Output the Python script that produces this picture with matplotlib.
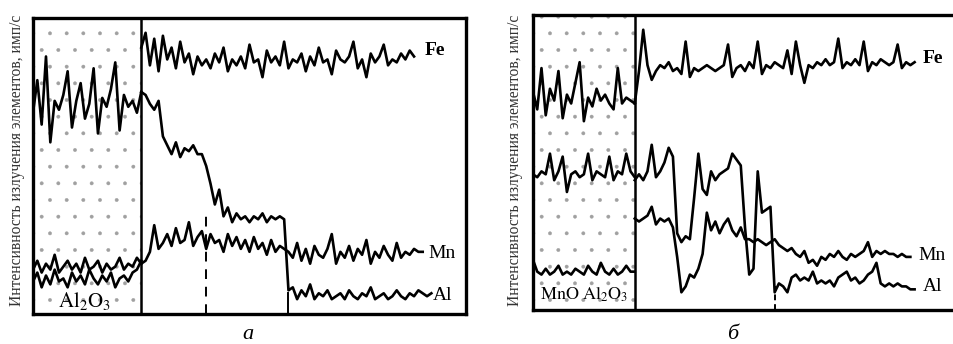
import numpy as np
import matplotlib
matplotlib.use('Agg')
import matplotlib.pyplot as plt

plt.rcParams['font.family'] = ['Liberation Serif', 'DejaVu Serif']
plt.rcParams['mathtext.fontset'] = 'stix'
plt.rcParams['hatch.linewidth'] = 0.3

# ---- panel a: Al2O3 | steel, x in steps of 1 (arb. units 0..100)
a_border = 25          # oxide / metal boundary
a_dashes = [40, 59]    # dashed markers

fe_a_oxide = [11, 14, 9, 13, 10, 15, 11, 12, 9, 14, 11, 13, 10, 15, 12, 10, 13, 11,
              14, 9, 12, 13, 11, 14, 15, 18]
fe_a_metal = [90, 95, 84, 93, 82, 94, 86, 90, 83, 92, 85, 88, 81, 87, 84, 86, 83, 88,
              85, 90, 82, 86, 84, 87, 83, 91, 85, 86, 80, 89, 85, 87, 84, 92, 83, 86,
              85, 88, 82, 87, 84, 90, 85, 86, 81, 89, 86, 85, 87, 92, 83, 86, 80, 88,
              85, 87, 91, 84, 86, 85, 88, 86, 89, 87]
mn_a_oxide = [15, 18, 14, 17, 15, 20, 14, 16, 18, 15, 17, 14, 19, 15, 16, 18, 14, 17,
              15, 16, 19, 15, 17, 16, 19, 17]
mn_a_metal = [17, 18, 21, 30, 22, 24, 27, 23, 29, 24, 25, 31, 23, 26, 28, 22, 27, 24,
              25, 21, 27, 23, 26, 22, 25, 21, 26, 22, 24, 20, 25, 21, 23, 22,
              21, 19, 24, 18, 22, 17, 23, 20, 19, 22, 27, 17, 21, 19, 23, 18, 22, 20,
              25, 17, 21, 19, 23, 20, 18, 24, 19, 21, 20, 22, 21, 21]
al_a_oxide = [68, 79, 64, 87, 58, 72, 69, 74, 82, 63, 72, 78, 66, 71, 83, 61, 73, 70,
              76, 85, 62, 74, 70, 72, 68, 75]
al_a_metal = [75, 74, 71, 69, 72, 60, 57, 54, 58, 53, 56, 55, 57, 54, 54, 50, 44, 37,
              42, 33, 36, 31, 34, 32, 33, 31, 33, 32, 34, 31, 33, 32, 33, 32, 8,
              9, 5, 8, 6, 10, 5, 7, 6, 8, 5, 6, 7, 5, 8, 6, 5, 7, 6, 9, 5, 6, 7, 5,
              6, 8, 6, 5, 7, 6, 8, 7, 6, 7]

# ---- panel b: MnO*Al2O3 | steel
b_border = 24
b_dashes = [57]

fe_b_oxide = [74, 68, 82, 66, 75, 71, 81, 65, 73, 70, 77, 84, 64, 72, 69, 75, 71, 73,
              70, 68, 82, 70, 72, 71, 70]
fe_b_metal = [70, 81, 95, 83, 78, 81, 83, 82, 84, 81, 82, 80, 91, 79, 82, 81, 82, 83,
              82, 81, 82, 83, 90, 79, 82, 83, 81, 84, 82, 91, 80, 83, 82, 84, 83, 82,
              88, 80, 91, 83, 77, 83, 82, 84, 83, 85, 83, 84, 92, 82, 84, 83, 85, 83,
              91, 81, 84, 83, 85, 84, 83, 84, 90, 82, 84, 83, 84]
mn_b_oxide = [17, 13, 12, 14, 12, 13, 15, 12, 13, 12, 14, 13, 12, 15, 13, 12, 16, 13,
              12, 14, 12, 13, 15, 13, 13]
mn_b_metal = [31, 30, 31, 32, 35, 29, 31, 30, 31, 28, 18, 6, 8, 12, 11, 14, 19, 33,
              27, 30, 26, 29, 31, 27, 25, 28, 24, 24, 23, 24, 23, 22, 23, 24, 22, 21,
              20, 21, 19, 18, 20, 16, 17, 15, 18, 17, 19, 18, 20, 18, 17, 19, 18, 19,
              20, 23, 18, 20, 19, 20, 19, 19, 18, 19, 18, 18]
al_b_oxide = [46, 45, 47, 46, 53, 44, 47, 52, 40, 46, 47, 45, 46, 53, 44, 47, 46, 45,
              52, 44, 47, 46, 53, 47, 45]
al_b_metal = [44, 46, 44, 47, 56, 45, 47, 50, 55, 52, 26, 23, 25, 24, 38, 53, 41, 39,
              47, 44, 46, 47, 48, 53, 51, 49, 28, 12, 14, 47, 33, 34, 35,
              6, 9, 8, 6, 11, 12, 10, 11, 10, 13, 9, 10, 9, 10, 8, 11, 12, 13, 10, 11,
              9, 10, 12, 13, 16, 9, 8, 9, 8, 9, 8, 8, 7, 7]

ylabel = 'Интенсивность излучения элементов, имп/с'


def trace(ax, x0, ys):
    ax.plot(x0 + np.arange(len(ys)), ys, color='black', lw=1.9,
            solid_joinstyle='round')


def setup(ax, border):
    ax.set_xlim(0, 100)
    ax.set_ylim(0, 100)
    ax.set_xticks([])
    ax.set_yticks([])
    for s in ax.spines.values():
        s.set_linewidth(2.4)
    ax.axvspan(0, border, facecolor='none', edgecolor='#a0a0a0', hatch='.', lw=0)
    ax.axvline(border, color='black', lw=1.8)


fig = plt.figure(figsize=(9.54, 3.44), dpi=100)

# panel a
ax_a = fig.add_axes([33 / 954, 30 / 344, 433 / 954, 296 / 344])
setup(ax_a, a_border)
for lo, hi in [(fe_a_oxide, fe_a_metal), (mn_a_oxide, mn_a_metal), (al_a_oxide, al_a_metal)]:
    trace(ax_a, 0, lo)
    trace(ax_a, a_border, hi)
ax_a.plot([a_dashes[0]] * 2, [0, 34], color='black', lw=1.4, ls=(0, (5, 4)))
ax_a.plot([a_dashes[1]] * 2, [0, 7], color='black', lw=1.4)
ax_a.text(90.5, 89, 'Fe', fontsize=14, fontweight='bold', va='center')
ax_a.text(91.2, 20.5, 'Mn', fontsize=14, va='center')
ax_a.text(92.4, 6.4, 'Al', fontsize=14, va='center')
ax_a.text(12, 4.5, r'$\mathrm{Al_2O_3}$', fontsize=15, ha='center', va='center')

# panel b
ax_b = fig.add_axes([533 / 954, 34 / 344, 424 / 954, 295 / 344])
setup(ax_b, b_border)
ax_b.spines['right'].set_visible(False)
for lo, hi in [(fe_b_oxide, fe_b_metal), (mn_b_oxide, mn_b_metal), (al_b_oxide, al_b_metal)]:
    trace(ax_b, 0, lo)
    trace(ax_b, b_border, hi)
ax_b.plot([b_dashes[0]] * 2, [0, 8], color='black', lw=1.4, ls=(0, (3, 2)))
ax_b.text(92, 85.4, 'Fe', fontsize=14, fontweight='bold', va='center')
ax_b.text(91, 18.6, 'Mn', fontsize=14, va='center')
ax_b.text(92, 7.8, 'Al', fontsize=14, va='center')
ax_b.text(12, 5, r'$\mathrm{MnO\ Al_2O_3}$', fontsize=13, ha='center', va='center')

fig.text(17 / 954, 1 - 160 / 344, ylabel, rotation=90, fontsize=11.2,
         color='#333333', ha='center', va='center')
fig.text(515 / 954, 1 - 160 / 344, ylabel, rotation=90, fontsize=11.2,
         color='#333333', ha='center', va='center')

fig.text(248 / 954, 1 - 339 / 344, 'а', fontsize=16, style='italic', ha='center', va='baseline')
fig.text(733 / 954, 1 - 339 / 344, 'б', fontsize=16, style='italic', ha='center', va='baseline')

fig.savefig('out.png', dpi=100)
